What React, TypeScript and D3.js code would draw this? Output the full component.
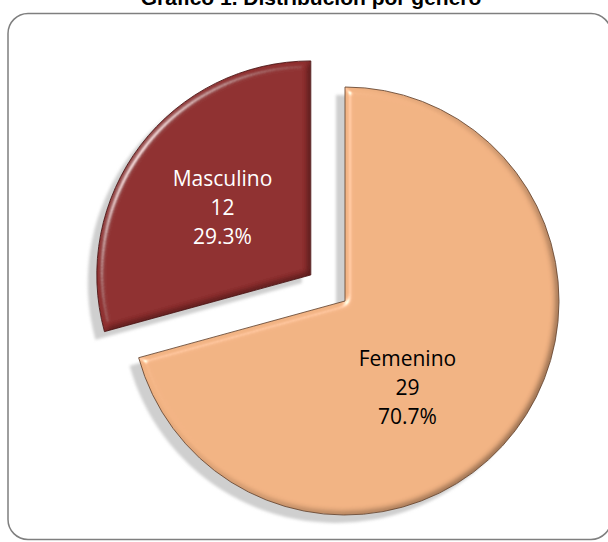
import React from "react";
import * as d3 from "d3";

const categories = ["Femenino", "Masculino"];
const counts = [29, 12];
const percentLabels = ["70.7%", "29.3%"];
const sliceColors = ["#F2B383", "#8F2F2F"];
const edgeColors = ["#6b4a33", "#4a1212"];
const textColors = ["#000000", "#ffffff"];
const titleText = "Gráfico 1. Distribución por género";

const W = 608;
const H = 542;
const CX = 345;
const CY = 301;
const R = 214;
const EXPLODE = [0, 43];
const LABEL_R = [107, 111];
const LABEL_SHIFT = [17, 0]; // degrees
const LINE_H = 29;

export default function App() {
  const total = d3.sum(counts);
  const pie = d3
    .pie<number>()
    .sort(null)
    .value((d) => d)
    .startAngle(0)
    .endAngle(2 * Math.PI);
  const arcs = pie(counts);
  const arcGen = d3.arc<d3.PieArcDatum<number>>().innerRadius(0).outerRadius(R);

  const slices = arcs.map((a, i) => {
    const mid = (a.startAngle + a.endAngle) / 2;
    const dx = Math.sin(mid) * EXPLODE[i];
    const dy = -Math.cos(mid) * EXPLODE[i];
    const la = mid + (LABEL_SHIFT[i] * Math.PI) / 180;
    const lx = Math.sin(la) * LABEL_R[i];
    const ly = -Math.cos(la) * LABEL_R[i];
    return { a, i, dx, dy, lx, ly, d: arcGen(a) as string };
  });

  return (
    <svg
      width={W}
      height={H}
      style={{ position: "absolute", left: 0, top: 0 }}
      xmlns="http://www.w3.org/2000/svg"
    >
      <defs>
        <filter id="shadow" x="-20%" y="-20%" width="140%" height="140%">
          <feGaussianBlur stdDeviation="1.5" />
        </filter>
        <filter id="bevel" x="-10%" y="-10%" width="120%" height="120%">
          <feGaussianBlur in="SourceAlpha" stdDeviation="3.5" result="blur" />
          <feSpecularLighting
            in="blur"
            surfaceScale="5"
            specularConstant="1"
            specularExponent="40"
            lightingColor="#ffffff"
            result="spec"
          >
            <feDistantLight azimuth="215" elevation="35" />
          </feSpecularLighting>
          <feComposite in="spec" in2="SourceAlpha" operator="in" result="specIn" />
          <feDiffuseLighting
            in="blur"
            surfaceScale="5"
            diffuseConstant="1.22"
            lightingColor="#ffffff"
            result="diff"
          >
            <feDistantLight azimuth="215" elevation="55" />
          </feDiffuseLighting>
          <feComposite in="SourceGraphic" in2="diff" operator="arithmetic" k1="0.7" k2="0.3" k3="0" k4="0" result="shaded" />
          <feComposite in="shaded" in2="SourceAlpha" operator="in" result="shadedIn" />
          <feComposite in="shadedIn" in2="specIn" operator="arithmetic" k1="0" k2="1" k3="0.55" k4="0" />
        </filter>
      </defs>
      <rect x={0} y={0} width={W} height={H} fill="#ffffff" />
      <text
        x={311}
        y={5}
        textAnchor="middle"
        fontFamily="'Liberation Sans', Arial, sans-serif"
        fontWeight="bold"
        fontSize={21}
        fill="#000"
      >
        {titleText}
      </text>
      <rect
        x={8}
        y={13.5}
        width={603}
        height={526}
        rx={20}
        ry={20}
        fill="none"
        stroke="#7f7f7f"
        strokeWidth={1.5}
      />
      {slices.map((s) => (
        <path
          key={"sh" + s.i}
          d={s.d}
          transform={`translate(${CX + s.dx - 9},${CY + s.dy + 8})`}
          fill="#cfcfcf"
          filter="url(#shadow)"
        />
      ))}
      {slices.map((s) => (
        <g key={"sl" + s.i} transform={`translate(${CX + s.dx},${CY + s.dy})`}>
          <path d={s.d} fill={sliceColors[s.i]} filter="url(#bevel)" />
          <path d={s.d} fill="none" stroke={edgeColors[s.i]} strokeWidth={0.9} />
        </g>
      ))}
      {slices.map((s) => {
        const x = CX + s.dx + s.lx;
        const y = CY + s.dy + s.ly;
        const lines = [categories[s.i], String(counts[s.i]), percentLabels[s.i]];
        return (
          <text
            key={"lb" + s.i}
            x={x}
            textAnchor="middle"
            fontFamily="'Open Sans', sans-serif"
            fontSize={21}
            fill={textColors[s.i]}
          >
            {lines.map((t, k) => (
              <tspan key={k} x={x} y={y + (k - 1) * LINE_H + 7.5}>
                {t}
              </tspan>
            ))}
          </text>
        );
      })}
      <desc>{`total ${total}`}</desc>
    </svg>
  );
}
